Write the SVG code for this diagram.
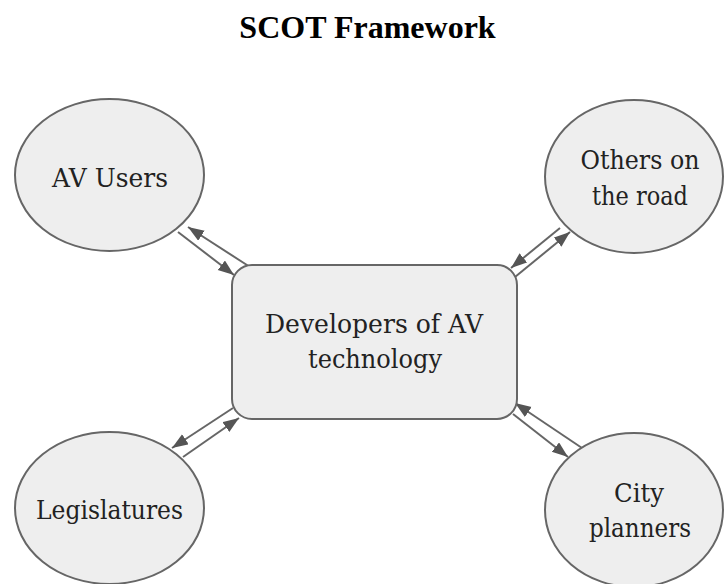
<svg xmlns="http://www.w3.org/2000/svg" width="725" height="584" viewBox="0 0 725 584">
  <style>
    .shape { fill: #eeeeee; stroke: #666666; stroke-width: 2; }
    .caption { font-family: "DejaVu Serif", serif; font-size: 26px; fill: #222222; text-anchor: middle; }
    .heading { font-family: "Liberation Serif", "Times New Roman", serif; font-size: 32px; font-weight: bold; fill: #000000; text-anchor: middle; }
    .link { stroke: #666666; stroke-width: 2; fill: none; marker-end: url(#head); }
  </style>
  <defs>
    <marker id="head" markerUnits="userSpaceOnUse" markerWidth="18" markerHeight="14" refX="16" refY="6" orient="auto">
      <path d="M0,0 L16,6 L0,12 Z" fill="#555555"/>
    </marker>
  </defs>

  <rect width="725" height="584" fill="#ffffff"/>

  <text class="heading" x="367.5" y="38">SCOT Framework</text>

  <g id="connectors">
    <!-- AV Users <-> Developers -->
    <line class="link" x1="178" y1="232" x2="234" y2="275"/>
    <line class="link" x1="250" y1="267" x2="188" y2="227"/>
    <!-- Others on the road <-> Developers -->
    <line class="link" x1="560" y1="228" x2="511" y2="268"/>
    <line class="link" x1="515" y1="277" x2="570" y2="232"/>
    <!-- Legislatures <-> Developers -->
    <line class="link" x1="233" y1="408" x2="172" y2="448"/>
    <line class="link" x1="183" y1="457" x2="239" y2="418"/>
    <!-- City planners <-> Developers -->
    <line class="link" x1="582" y1="448" x2="515" y2="403"/>
    <line class="link" x1="513" y1="414" x2="568" y2="457"/>
  </g>

  <g id="av-users">
    <ellipse class="shape" cx="109.5" cy="175" rx="94.5" ry="76"/>
    <text class="caption" x="110" y="187" textLength="116" lengthAdjust="spacingAndGlyphs">AV Users</text>
  </g>

  <g id="others-on-the-road">
    <ellipse class="shape" cx="634" cy="176.5" rx="89" ry="76.5"/>
    <text class="caption" x="640" y="169" textLength="119" lengthAdjust="spacingAndGlyphs">Others on</text>
    <text class="caption" x="640" y="205" textLength="96" lengthAdjust="spacingAndGlyphs">the road</text>
  </g>

  <g id="developers">
    <rect class="shape" x="232" y="265" width="285" height="154" rx="20" ry="20"/>
    <text class="caption" x="374" y="333" textLength="218" lengthAdjust="spacingAndGlyphs">Developers of AV</text>
    <text class="caption" x="375" y="368" textLength="134" lengthAdjust="spacingAndGlyphs">technology</text>
  </g>

  <g id="legislatures">
    <ellipse class="shape" cx="109.5" cy="508" rx="94.5" ry="76"/>
    <text class="caption" x="109.5" y="519" textLength="147" lengthAdjust="spacingAndGlyphs">Legislatures</text>
  </g>

  <g id="city-planners">
    <ellipse class="shape" cx="634" cy="510" rx="89" ry="77"/>
    <text class="caption" x="639" y="502" textLength="50" lengthAdjust="spacingAndGlyphs">City</text>
    <text class="caption" x="640" y="537" textLength="102" lengthAdjust="spacingAndGlyphs">planners</text>
  </g>
</svg>
